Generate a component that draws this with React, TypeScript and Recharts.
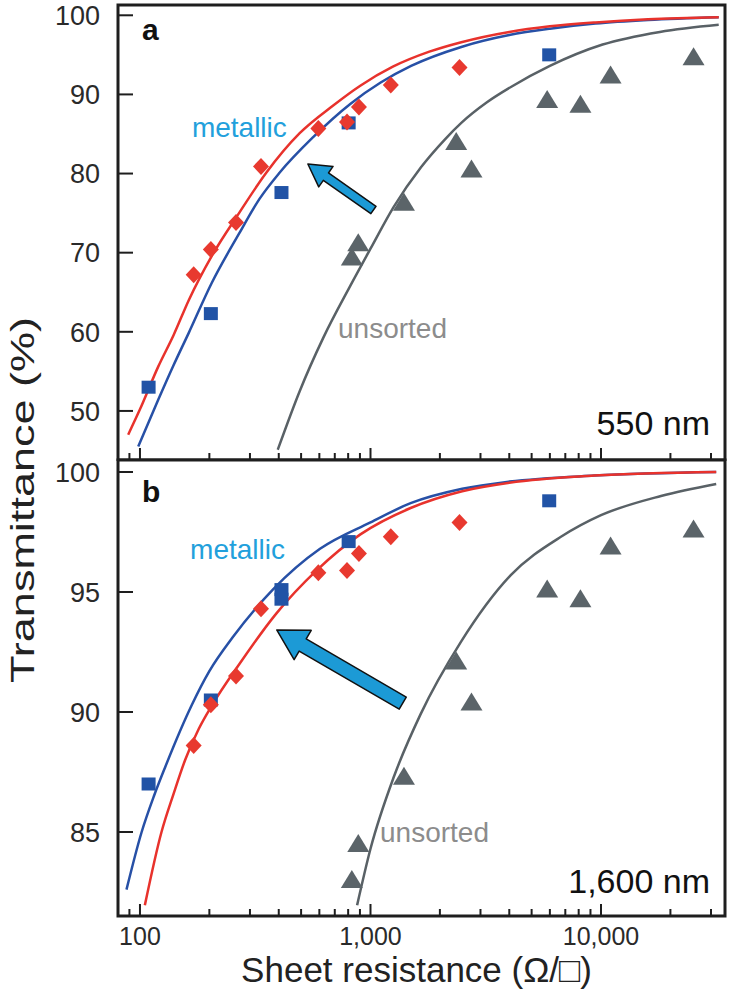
import {
  ComposedChart,
  Line,
  Scatter,
  XAxis,
  YAxis,
  ReferenceArea,
  ReferenceDot,
  ReferenceLine,
} from 'recharts'

const FONT = '"Liberation Sans", Arial, Helvetica, sans-serif'
const FRAME = '#1e1e1e'
const RED = '#e8322c'
const BLUE = '#2750a6'
const GRAY = '#596166'
const CYAN = '#1c9ad6'

type Pt = { r: number; t: number }
const pts = (rows: number[][]): Pt[] => rows.map(([r, t]) => ({ r, t }))

// shared x axis (sheet resistance, log)
const xDomain = [80.3, 34500]
const xTicks = [
  90, 100, 200, 300, 400, 500, 600, 700, 800, 900, 1000, 2000, 3000, 4000,
  5000, 6000, 7000, 8000, 9000, 10000, 20000, 30000,
]
const xMajor = [100, 1000, 10000]
const xTickLabels: Record<number, string> = { 100: '100', 1000: '1,000', 10000: '10,000' }

// panel a: 550 nm
const yTicksA = [50, 60, 70, 80, 90, 100]
const yDomainA = [43.8, 101.3]
const redPointsA = pts([[171, 67.2], [203, 70.4], [261, 73.8], [335, 80.9], [594, 85.7], [791, 86.5], [891, 88.4], [1225, 91.2], [2433, 93.4]])
const bluePointsA = pts([[109, 53.0], [203, 62.3], [411, 77.6], [804, 86.4], [5960, 95.0]])
const grayPointsA = pts([[830, 69.4], [885, 71.2], [1397, 76.3], [2354, 84.0], [2742, 80.5], [5840, 89.3], [8140, 88.7], [11000, 92.4], [25200, 94.7]])
const redCurveA = pts([[88.9, 47.0], [100, 50.2], [120, 55.6], [140, 59.6], [162.8, 64.0], [205, 69.6], [269, 75.0], [353, 80.1], [493, 85.1], [689, 88.6], [903, 91.1], [1250, 93.5], [1800, 95.4], [2477, 96.6], [4000, 97.9], [6000, 98.6], [9460, 99.1], [16000, 99.5], [32400, 99.75]])
const blueCurveA = pts([[98.3, 45.5], [120, 51.4], [140, 55.8], [163, 59.9], [205, 66.2], [269, 72.4], [330, 76.8], [403, 80.1], [564, 84.6], [817, 88.8], [1107, 91.5], [1500, 93.6], [2477, 96.0], [4000, 97.5], [6000, 98.3], [9460, 98.95], [16000, 99.4], [32400, 99.75]])
const grayCurveA = pts([[396, 45.1], [493, 52.5], [623, 59.2], [817, 65.8], [1000, 70.5], [1261, 75.8], [1656, 80.8], [2100, 84.3], [2477, 86.4], [3200, 89.0], [4101, 91.0], [6000, 93.6], [10160, 96.3], [18000, 97.9], [32400, 98.8]])

// panel b: 1,600 nm
const yTicksB = [85, 90, 95, 100]
const yDomainB = [81.5, 100.5]
const redPointsB = pts([[171, 88.6], [203, 90.3], [261, 91.5], [335, 94.3], [594, 95.8], [791, 95.9], [891, 96.6], [1225, 97.3], [2433, 97.9]])
const bluePointsB = pts([[109, 87.0], [203, 90.5], [411, 95.1], [411, 94.7], [804, 97.1], [5960, 98.8]])
const grayPointsB = pts([[830, 83.0], [885, 84.5], [1397, 87.3], [2354, 92.1], [2742, 90.4], [5840, 95.1], [8140, 94.7], [11000, 96.9], [25200, 97.6]])
const redCurveB = pts([[105, 81.95], [124, 85.0], [140, 86.6], [157, 88.0], [180, 89.3], [206, 90.3], [270, 92.0], [390, 94.1], [584, 95.9], [904, 97.4], [1493, 98.5], [2500, 99.2], [4000, 99.55], [9350, 99.85], [31600, 100.0]])
const blueCurveB = pts([[87.4, 82.6], [101.7, 85.0], [115, 86.5], [128.6, 87.7], [168, 90.3], [200, 91.7], [252, 93.1], [377, 95.1], [604, 96.8], [1000, 97.9], [1493, 98.7], [2500, 99.3], [4000, 99.6], [9350, 99.85], [31600, 100.0]])
const grayCurveB = pts([[875, 81.95], [1000, 84.3], [1263, 87.3], [1648, 89.9], [2460, 92.9], [4060, 95.7], [6700, 97.3], [10000, 98.2], [18200, 99.0], [31600, 99.5]])

function XTick(props: any) {
  const { x, y, payload, showLabel } = props
  const major = xMajor.includes(payload.value)
  const len = major ? 12 : 7
  return (
    <g>
      <line x1={x} x2={x} y1={y} y2={y - len} stroke={FRAME} strokeWidth={2} />
      {showLabel && major && (
        <text x={x} y={y + 29} textAnchor="middle" fontSize={25} fill="#2a2a2a">
          {xTickLabels[payload.value]}
        </text>
      )}
    </g>
  )
}

function YTick(props: any) {
  const { x, y, payload } = props
  return (
    <g>
      <line x1={x} x2={x + 15} y1={y} y2={y} stroke={FRAME} strokeWidth={2} />
      <text x={x - 18} y={y} dy="0.36em" textAnchor="end" fontSize={27} fill="#2a2a2a">
        {payload.value}
      </text>
    </g>
  )
}

const square = (p: any) => <rect x={p.cx - 7} y={p.cy - 6.5} width={14} height={13} fill="#2153a6" />
const diamond = (p: any) => (
  <polygon
    points={`${p.cx},${p.cy - 8.5} ${p.cx + 8},${p.cy} ${p.cx},${p.cy + 8.5} ${p.cx - 8},${p.cy}`}
    fill="#e8392f"
  />
)
const triangle = (p: any) => (
  <polygon
    points={`${p.cx},${p.cy - 10} ${p.cx + 11},${p.cy + 8} ${p.cx - 11},${p.cy + 8}`}
    fill="#5b6469"
  />
)

function textShape(label: string, style: Record<string, any>) {
  return (p: any) => (
    <text x={p.cx} y={p.cy} {...style}>
      {label}
    </text>
  )
}

function arrowShape(shaft: number, headW: number, headL: number) {
  return (p: any) => {
    const { x1, y1, x2, y2 } = p
    const dx = x2 - x1
    const dy = y2 - y1
    const len = Math.hypot(dx, dy) || 1
    const ux = dx / len
    const uy = dy / len
    const nx = -uy
    const ny = ux
    const bx = x2 - ux * headL
    const by = y2 - uy * headL
    const poly = [
      [x1 + (nx * shaft) / 2, y1 + (ny * shaft) / 2],
      [bx + (nx * shaft) / 2, by + (ny * shaft) / 2],
      [bx + (nx * headW) / 2, by + (ny * headW) / 2],
      [x2, y2],
      [bx - (nx * headW) / 2, by - (ny * headW) / 2],
      [bx - (nx * shaft) / 2, by - (ny * shaft) / 2],
      [x1 - (nx * shaft) / 2, y1 - (ny * shaft) / 2],
    ]
      .map((q) => q.join(','))
      .join(' ')
    return <polygon points={poly} fill={CYAN} stroke="#111" strokeWidth={1.5} strokeLinejoin="round" />
  }
}

interface PanelProps {
  height: number
  top: number
  axisHeight: number
  yDomain: number[]
  yTicks: number[]
  redCurve: Pt[]
  blueCurve: Pt[]
  grayCurve: Pt[]
  redPoints: Pt[]
  bluePoints: Pt[]
  grayPoints: Pt[]
  showXLabels: boolean
  children?: any
}

function Panel(p: PanelProps) {
  return (
    <ComposedChart
      width={731}
      height={p.height}
      margin={{ top: p.top, right: 6, bottom: 0, left: 0 }}
    >
      <XAxis
        dataKey="r"
        type="number"
        scale="log"
        domain={xDomain}
        allowDataOverflow
        ticks={xTicks}
        interval={0}
        height={p.axisHeight}
        axisLine={false}
        tickLine={false}
        tickSize={0}
        tickMargin={0}
        tick={<XTick showLabel={p.showXLabels} />}
        label={
          p.showXLabels
            ? (lp: any) => (
                <text
                  x={lp.viewBox.x + lp.viewBox.width / 2 - 5}
                  y={lp.viewBox.y + lp.viewBox.height - 15}
                  textAnchor="middle"
                  fontSize={35}
                  fill="#222"
                >
                  Sheet resistance (Ω/□)
                </text>
              )
            : undefined
        }
      />
      <YAxis
        dataKey="t"
        type="number"
        domain={p.yDomain}
        allowDataOverflow
        ticks={p.yTicks}
        interval={0}
        width={118}
        axisLine={false}
        tickLine={false}
        tickSize={0}
        tickMargin={0}
        tick={<YTick />}
      />
      <Line data={p.grayCurve} dataKey="t" type="monotone" stroke={GRAY} strokeWidth={2.5} dot={false} isAnimationActive={false} />
      <Line data={p.blueCurve} dataKey="t" type="monotone" stroke={BLUE} strokeWidth={2.5} dot={false} isAnimationActive={false} />
      <Line data={p.redCurve} dataKey="t" type="monotone" stroke={RED} strokeWidth={2.5} dot={false} isAnimationActive={false} />
      <Scatter data={p.grayPoints} shape={triangle} isAnimationActive={false} />
      <Scatter data={p.bluePoints} shape={square} isAnimationActive={false} />
      <Scatter data={p.redPoints} shape={diamond} isAnimationActive={false} />
      {p.children}
      <ReferenceArea
        x1={xDomain[0]}
        x2={xDomain[1]}
        y1={p.yDomain[0]}
        y2={p.yDomain[1]}
        ifOverflow="visible"
        fill="none"
        fillOpacity={0}
        stroke={FRAME}
        strokeWidth={3}
        strokeOpacity={1}
      />
    </ComposedChart>
  )
}

export default function App() {
  return (
    <div
      style={{
        position: 'absolute',
        left: 0,
        top: 0,
        width: 731,
        height: 997,
        background: '#fff',
        fontFamily: FONT,
      }}
    >
      <div style={{ position: 'absolute', left: 0, top: 0 }}>
        <Panel
          height={461}
          top={5}
          axisHeight={1}
          yDomain={yDomainA}
          yTicks={yTicksA}
          redCurve={redCurveA}
          blueCurve={blueCurveA}
          grayCurve={grayCurveA}
          redPoints={redPointsA}
          bluePoints={bluePointsA}
          grayPoints={grayPointsA}
          showXLabels={false}
        >
          <ReferenceLine
            segment={[{ x: 1030, y: 75.4 }, { x: 535, y: 81.2 }]}
            ifOverflow="visible"
            shape={arrowShape(9, 25, 22)}
          />
          <ReferenceDot x={102} y={96.84} ifOverflow="visible" shape={textShape('a', { fontSize: 30, fontWeight: 'bold', fill: '#111' })} />
          <ReferenceDot x={168} y={84.58} ifOverflow="visible" shape={textShape('metallic', { fontSize: 28, fill: '#22a0dc' })} />
          <ReferenceDot x={723} y={59.2} ifOverflow="visible" shape={textShape('unsorted', { fontSize: 28, fill: '#8c8c8c' })} />
          <ReferenceDot x={29700} y={46.9} ifOverflow="visible" shape={textShape('550 nm', { fontSize: 34, fill: '#111', textAnchor: 'end' })} />
        </Panel>
      </div>
      <div style={{ position: 'absolute', left: 0, top: 452 }}>
        <Panel
          height={545}
          top={8}
          axisHeight={81}
          yDomain={yDomainB}
          yTicks={yTicksB}
          redCurve={redCurveB}
          blueCurve={blueCurveB}
          grayCurve={grayCurveB}
          redPoints={redPointsB}
          bluePoints={bluePointsB}
          grayPoints={grayPointsB}
          showXLabels
        >
          <ReferenceLine
            segment={[{ x: 1380, y: 90.37 }, { x: 392, y: 93.42 }]}
            ifOverflow="visible"
            shape={arrowShape(14, 34, 30)}
          />
          <ReferenceDot x={102} y={98.75} ifOverflow="visible" shape={textShape('b', { fontSize: 30, fontWeight: 'bold', fill: '#111' })} />
          <ReferenceDot x={165} y={96.38} ifOverflow="visible" shape={textShape('metallic', { fontSize: 28, fill: '#22a0dc' })} />
          <ReferenceDot x={1100} y={84.6} ifOverflow="visible" shape={textShape('unsorted', { fontSize: 28, fill: '#8c8c8c' })} />
          <ReferenceDot x={29700} y={82.46} ifOverflow="visible" shape={textShape('1,600 nm', { fontSize: 34, fill: '#111', textAnchor: 'end' })} />
        </Panel>
      </div>
      <svg
        width={731}
        height={997}
        style={{ position: 'absolute', left: 0, top: 0, pointerEvents: 'none' }}
      >
        <text
          transform="translate(34,500) rotate(-90)"
          textAnchor="middle"
          fontSize={33}
          textLength={366}
          lengthAdjust="spacingAndGlyphs"
          fill="#222"
        >
          Transmittance (%)
        </text>
      </svg>
    </div>
  )
}
